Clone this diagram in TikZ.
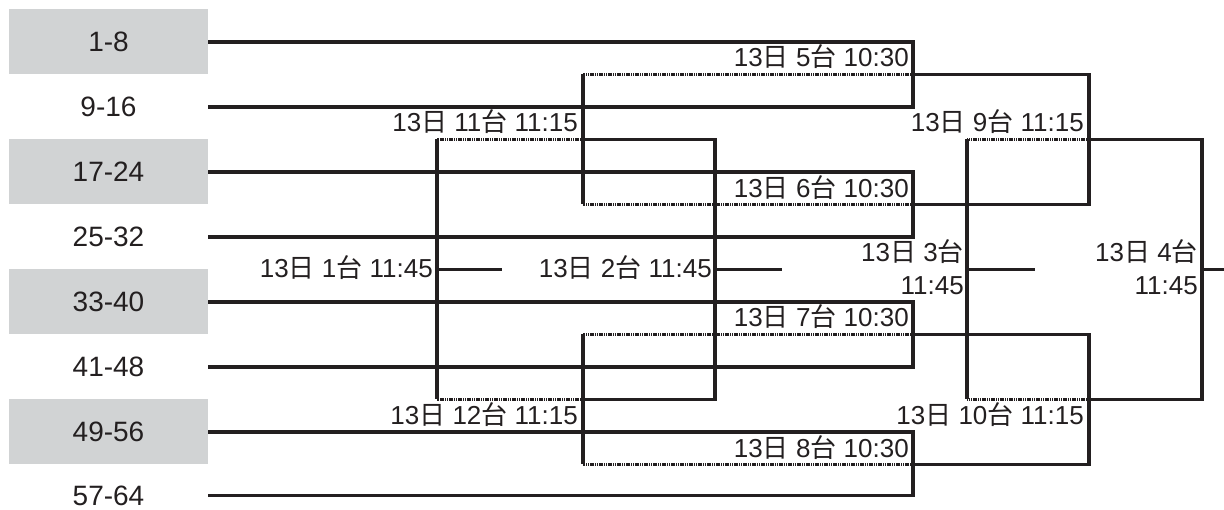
\documentclass[tikz,border=0pt]{standalone}
\usepackage{fontspec}
\setmainfont{Liberation Sans}
\newfontfamily\cjkfont{Noto Sans CJK JP}
\newcommand\jnichi{{\cjkfont 日}}
\newcommand\jdai{{\cjkfont 台}}
\definecolor{ink}{HTML}{231F20}
\definecolor{boxgray}{HTML}{D1D3D4}
\tikzset{
  team/.style={minimum width=199pt, inner sep=0pt, text=ink, font=\fontsize{28}{34}\selectfont},
  teamfill/.style={team, minimum height=65pt, fill=boxgray},
  wire/.style={draw=ink, line width=3.2pt},
  loser/.style={draw=ink, line width=2.2pt, dash pattern=on 1.2pt off 0.6pt},
  lbl/.style={inner sep=0pt, text=ink, font=\fontsize{26}{33}\selectfont, anchor=base east},
}
\begin{document}
\begin{tikzpicture}[x=1pt,y=-1pt]
\useasboundingbox (0,0) rectangle (1224,510);
% teams
\node[teamfill] (t1) at (108.5,42) {1-8};
\node[team] (t2) at (108.5,107) {9-16};
\node[teamfill] (t3) at (108.5,172) {17-24};
\node[team] (t4) at (108.5,237) {25-32};
\node[teamfill] (t5) at (108.5,302) {33-40};
\node[team] (t6) at (108.5,367) {41-48};
\node[teamfill] (t7) at (108.5,432) {49-56};
\node[team] (t8) at (108.5,495.5) {57-64};
% junctions
\coordinate (m5) at (913,74.5);
\coordinate (m6) at (913,204.5);
\coordinate (m7) at (913,334.5);
\coordinate (m8) at (913,464.5);
\coordinate (m9) at (1089,139.5);
\coordinate (m10) at (1089,399.5);
\coordinate (m11) at (583,139.5);
\coordinate (m12) at (583,399.5);
\coordinate (m1) at (437,269.5);
\coordinate (m2) at (715,269.5);
\coordinate (m3) at (967,269.5);
\coordinate (m4) at (1202,269.5);
\coordinate (e1) at (502,269.5);
\coordinate (e2) at (782,269.5);
\coordinate (e3) at (1035,269.5);
\coordinate (e4) at (1224,269.5);
% first round
\draw[wire] (t1.east) -| (m5) |- (t2.east);
\draw[wire] (t3.east) -| (m6) |- (t4.east);
\draw[wire] (t5.east) -| (m7) |- (t6.east);
\draw[wire] (t7.east) -| (m8) |- (t8.east);
% winners to 9/10
\draw[wire] (m5) -| (m9) |- (m6);
\draw[wire] (m7) -| (m10) |- (m8);
% losers to 11/12
\draw[loser] (m5) -- (m5 -| m11);
\draw[loser] (m6) -- (m6 -| m11);
\draw[wire] (m5 -| m11) -- (m6 -| m11);
\draw[loser] (m7) -- (m7 -| m12);
\draw[loser] (m8) -- (m8 -| m12);
\draw[wire] (m7 -| m12) -- (m8 -| m12);
% 11/12 to 2 and 1
\draw[wire] (m11) -| (m2) |- (m12);
\draw[loser] (m11) -- (m11 -| m1);
\draw[loser] (m12) -- (m12 -| m1);
\draw[wire] (m11 -| m1) -- (m12 -| m1);
% 9/10 to 4 and 3
\draw[wire] (m9) -| (m4) |- (m10);
\draw[loser] (m9) -- (m9 -| m3);
\draw[loser] (m10) -- (m10 -| m3);
\draw[wire] (m9 -| m3) -- (m10 -| m3);
% stubs
\draw[wire] (m1) -- (e1);
\draw[wire] (m2) -- (e2);
\draw[wire] (m3) -- (e3);
\draw[wire] (m4) -- (e4);
% labels
\node[lbl] (L5) at (909,67) {13\jnichi\ 5\jdai\ 10:30};
\node[lbl] (L6) at (909,198) {13\jnichi\ 6\jdai\ 10:30};
\node[lbl] (L7) at (909,327) {13\jnichi\ 7\jdai\ 10:30};
\node[lbl] (L8) at (909,457) {13\jnichi\ 8\jdai\ 10:30};
\node[lbl] (L9) at (1084,132) {13\jnichi\ 9\jdai\ 11:15};
\node[lbl] (L11) at (578,132) {13\jnichi\ 11\jdai\ 11:15};
\node[lbl] (L10) at (1084,425) {13\jnichi\ 10\jdai\ 11:15};
\node[lbl] (L12) at (578,425) {13\jnichi\ 12\jdai\ 11:15};
\node[lbl] (L1) at (433,278) {13\jnichi\ 1\jdai\ 11:45};
\node[lbl] (L2) at (712,278) {13\jnichi\ 2\jdai\ 11:45};
\node[lbl, align=right] (L3) at (964,295) {13\jnichi\ 3\jdai\\11:45};
\node[lbl, align=right] (L4) at (1198,295) {13\jnichi\ 4\jdai\\11:45};
\end{tikzpicture}
\end{document}
